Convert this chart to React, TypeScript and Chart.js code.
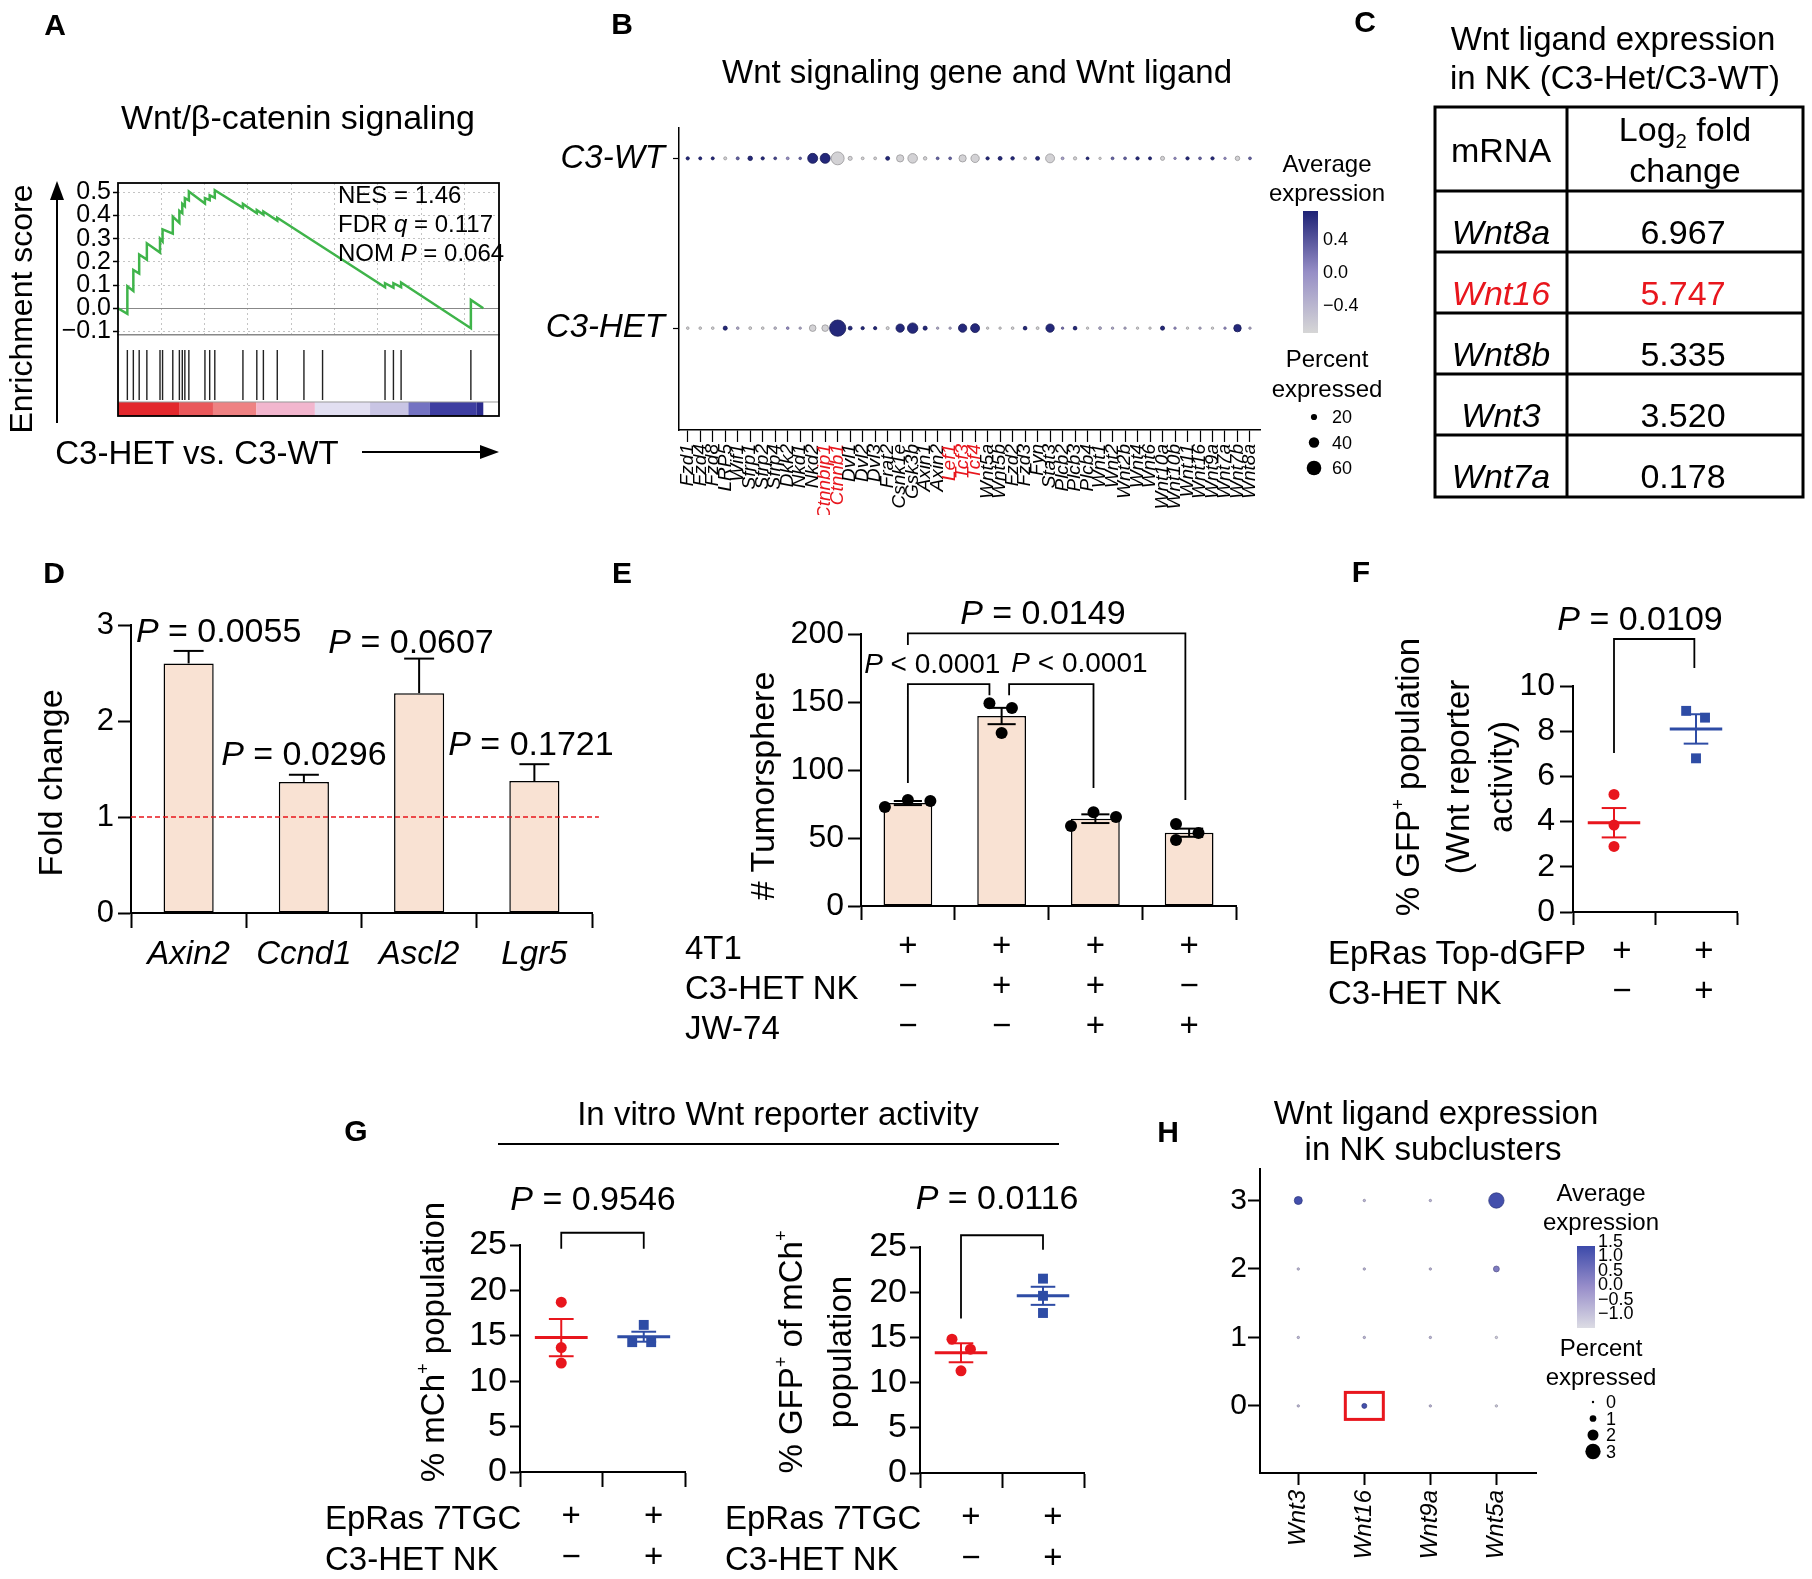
import React, { useEffect, useRef } from 'react';
import { Chart, registerables } from 'chart.js';

Chart.register(...registerables);

const FONT = "'Liberation Sans', Arial, Helvetica, sans-serif";
Chart.defaults.font.family = FONT;
Chart.defaults.color = '#000';

const RED = '#E8161D';
const BLUE = '#2E4CA5';
const PEACH = '#F9E2D3';
const GREEN = '#3FB44A';
const MINUS = '\u2212';

// ---------------- Panel A (GSEA) ----------------
const esRank = [0, 2.56, 2.56, 4.2, 4.2, 5.8, 5.8, 7.9, 7.9, 11.5, 11.5, 12.2, 12.2, 15.0, 15.0, 16.8, 16.8, 17.6, 17.6, 18.3, 18.3, 19.4, 19.4, 23.8, 23.8, 25.1, 25.1, 26.5, 26.5, 34.2, 34.2, 38.0, 38.0, 39.8, 39.8, 43.6, 43.6, 73.1, 73.1, 75.4, 75.4, 77.5, 77.5, 96.6, 96.6, 100];
const esScore = [0, -0.024, 0.095, 0.075, 0.165, 0.15, 0.232, 0.21, 0.28, 0.24, 0.3, 0.288, 0.34, 0.322, 0.395, 0.368, 0.42, 0.41, 0.45, 0.44, 0.475, 0.465, 0.503, 0.452, 0.475, 0.466, 0.487, 0.476, 0.509, 0.433, 0.45, 0.41, 0.423, 0.404, 0.417, 0.378, 0.39, 0.091, 0.108, 0.089, 0.108, 0.091, 0.111, -0.086, 0.036, 0];
const hitRanks = [2.56, 4.2, 5.8, 7.9, 11.5, 12.2, 15.0, 16.8, 17.6, 18.3, 19.4, 23.8, 25.1, 26.5, 34.2, 38.0, 39.8, 43.6, 50.9, 56.0, 73.1, 75.4, 77.5, 96.6];
const esGridRanks = [11.85, 23.7, 35.55, 47.4, 59.25, 71.1, 82.95, 94.8];
const esTicks = [-0.1, 0, 0.1, 0.2, 0.3, 0.4, 0.5];
const rankBarStops = [0, 16.9, 26, 37.9, 53.9, 69, 79.5, 85.4, 98.2, 100];
const rankBarColors = ['#E3282D', '#E9585B', '#EE8283', '#F2B6CE', '#E2DFF1', '#C9C5E4', '#7473C2', '#3E3EA1', '#2A2A8C'];
const gseaStats = [['NES = 1.46', '', ''], ['FDR ', 'q', ' = 0.117'], ['NOM ', 'P', ' = 0.064']];

// ---------------- Panel B (dot plot) ----------------
const genesB = ['Fzd1', 'Fzd4', 'Fzd8', 'LRP5', 'Wif1', 'Sfrp1', 'Sfrp2', 'Sfrp4', 'Dkk2', 'Nkd1', 'Nkd2', 'Ctnnbip1', 'Ctnnb1', 'Dvl1', 'Dvl2', 'Dvl3', 'Frat2', 'Csnk1e', 'Gsk3b', 'Axin1', 'Axin2', 'Lef1', 'Tcf3', 'Tcf4', 'Wnt5a', 'Wnt5b', 'Fzd2', 'Fzd3', 'Fyn', 'Stat3', 'Plcb2', 'Plcb3', 'Plcb4', 'Wnt1', 'Wnt2', 'Wnt2b', 'Wnt4', 'Wnt6', 'Wnt10a', 'Wnt10b', 'Wnt11', 'Wnt16', 'Wnt9a', 'Wnt7a', 'Wnt7b', 'Wnt8a'];
const redGenesB = ['Ctnnbip1', 'Ctnnb1', 'Lef1', 'Tcf3', 'Tcf4'];
const rowsB = ['C3-HET', 'C3-WT'];
const pctWT = [6, 5, 5, 5, 5, 12, 6, 4, 4, 3, 38, 38, 52, 10, 4, 4, 9, 25, 36, 7, 4, 4, 25, 30, 6, 9, 7, 4, 9, 33, 4, 6, 4, 2, 4, 4, 6, 5, 10, 2, 6, 4, 6, 2, 12, 4];
const avgWT = [0.7, 0.7, 0.7, -0.7, 0.3, 0.7, 0.7, 0.5, 0, 0.3, 0.7, 0.7, -0.7, -0.7, -0.7, -0.7, 0.7, -0.7, -0.7, -0.7, 0.3, 0.3, -0.7, -0.7, 0.7, 0.7, 0.7, -0.7, 0.7, -0.7, -0.2, -0.7, 0.7, -0.7, 0.3, 0.3, 0.7, 0.7, -0.7, 0, 0.7, 0.3, 0.7, 0, -0.7, 0.3];
const pctHET = [3, 3, 3, 10, 3, 4, 3, 3, 3, 2, 22, 22, 68, 9, 6, 6, 5, 30, 40, 10, 2, 2, 30, 33, 2, 2, 3, 8, 4, 30, 2, 8, 2, 4, 2, 2, 2, 2, 10, 2, 2, 2, 2, 2, 26, 2];
const avgHET = [-0.7, -0.7, -0.7, 0.7, -0.3, -0.7, -0.7, -0.5, 0, -0.3, -0.7, -0.7, 0.7, 0.7, 0.7, 0.7, -0.7, 0.7, 0.7, 0.7, -0.3, -0.3, 0.7, 0.7, -0.7, -0.7, -0.7, 0.7, -0.7, 0.7, 0.2, 0.7, -0.7, -0.3, -0.3, -0.3, -0.7, -0.7, 0.7, 0, -0.7, -0.3, -0.7, 0, 0.7, -0.3];
const legendPctB = [20, 40, 60];
const legendAvgB = [0.4, 0.0, -0.4];

// ---------------- Panel C (table) ----------------
const tableGenes = ['Wnt8a', 'Wnt16', 'Wnt8b', 'Wnt3', 'Wnt7a'];
const tableLog2FC = ['6.967', '5.747', '5.335', '3.520', '0.178'];
const tableHighlight = 'Wnt16';

// ---------------- Panel D ----------------
const genesD = ['Axin2', 'Ccnd1', 'Ascl2', 'Lgr5'];
const foldD = [2.6, 1.365, 2.29, 1.375];
const errD = [0.13, 0.075, 0.36, 0.175];
const pLabelD = ['P = 0.0055', 'P = 0.0296', 'P = 0.0607', 'P = 0.1721'];
const pXD = [0.26, 1.0, 1.93, 2.97];
const pYD = [2.95, 1.67, 2.84, 1.77];

// ---------------- Panel E ----------------
const condRowsE = ['4T1', 'C3-HET NK', 'JW-74'];
const cond4T1 = ['+', '+', '+', '+'];
const condNKE = [MINUS, '+', '+', MINUS];
const condJW = [MINUS, MINUS, '+', '+'];
const meansE = [75.7, 139.7, 64.2, 53.9];
const semE = [1.5, 6.0, 3.2, 3.0];
const ptsE = [[72.8, 77.9, 77.2], [149, 145.6, 127.2], [58.8, 69, 65.4], [60.3, 48.5, 53.7]];
const jitE = [[-0.245, 0, 0.24], [-0.13, 0.11, 0], [-0.26, -0.02, 0.22], [-0.14, -0.14, 0.1]];
const brX1E = [0, 0, 1.08];
const brX2E = [2.96, 0.87, 1.98];
const brTopE = [200.5, 163.2, 163.2];
const brY1E = [192, 90.4, 155];
const brY2E = [78, 155, 86.8];
const pLabelE = ['P = 0.0149', 'P < 0.0001', 'P < 0.0001'];
const pXE = [1.44, 0.26, 1.83];
const pYE = [216, 179, 179.5];
const pSizeE = [34, 28, 28];

// ---------------- Panel F ----------------
const condRowsF = ['EpRas Top-dGFP', 'C3-HET NK'];
const condRepF = ['+', '+'];
const condNKF = [MINUS, '+'];
const ptsF = [[5.2, 3.85, 2.9], [8.9, 8.6, 6.8]];
const jitF = [[0, 0, 0], [-0.12, 0.11, 0]];
const meanF = [3.95, 8.1];
const semF = [0.65, 0.65];

// ---------------- Panel G ----------------
const condRowsG = ['EpRas 7TGC', 'C3-HET NK'];
const condRepG = ['+', '+'];
const condNKG = [MINUS, '+'];
const ptsG1 = [[18.7, 13.7, 12.0], [16.2, 14.3, 14.3]];
const jitG1 = [[0, 0, 0], [0, -0.14, 0.09]];
const meanG1 = [14.8, 14.9];
const semG1 = [2.05, 0.55];
const ptsG2 = [[14.8, 13.7, 11.3], [21.5, 19.6, 17.7]];
const jitG2 = [[-0.11, 0.115, 0], [0, 0, 0]];
const meanG2 = [13.3, 19.6];
const semG2 = [1.05, 1.0];

// ---------------- Panel H ----------------
const genesH = ['Wnt3', 'Wnt16', 'Wnt9a', 'Wnt5a'];
const clustersH = [0, 1, 2, 3];
const pctH = [[0, 0, 0, 1.3], [0.6, 0, 0, 0], [0, 0, 0, 0], [0, 0, 0.8, 3.0]];
const avgH = [[-0.6, -0.6, -0.6, 1.5], [1.5, -0.5, -0.5, -0.5], [-0.5, -0.5, -0.5, -0.5], [-0.9, -0.9, 0.6, 1.5]];
const highlightH = { gene: 'Wnt16', cluster: 0 };
const legendPctH = [0, 1, 2, 3];
const legendAvgH = [1.5, 1.0, 0.5, 0.0, -0.5, -1.0];

// ---------------- helpers ----------------
function lerpStops(stops: number[][], t: number) {
  const tt = Math.max(0, Math.min(1, t));
  const n = stops.length - 1;
  const k = Math.min(n - 1, Math.floor(tt * n));
  const u = tt * n - k;
  const a = stops[k], b = stops[k + 1];
  return a.map((v, i) => v + (b[i] - v) * u);
}
const rgb = (c: number[], f = 1) => `rgb(${Math.round(c[0] * f)},${Math.round(c[1] * f)},${Math.round(c[2] * f)})`;
const stopsB = [[214, 214, 214], [150, 142, 198], [30, 34, 118]];
const colB = (v: number, f = 1) => rgb(lerpStops(stopsB, (v + 0.74) / 1.48), f);
const rB = (p: number) => 1 + 0.105 * p;
const stopsH = [[220, 220, 228], [152, 142, 202], [60, 74, 170]];
const colH = (v: number, f = 1) => rgb(lerpStops(stopsH, (v + 1.2) / 2.8), f);
const rH = (p: number) => 1.2 + 2.15 * p;
const fmtSigned = (v: number, d: number) => (v < 0 ? MINUS : '') + Math.abs(v).toFixed(d);

function frame(box: number[], area: number[]) {
  const [L, T, W, H] = box;
  const [x0, y0, x1, y1] = area;
  return { left: x0 - L, top: y0 - T, right: L + W - x1, bottom: T + H - y1 };
}

function baseOptions(f: any, scales: any) {
  return {
    responsive: false,
    animation: false,
    devicePixelRatio: 1,
    events: [],
    layout: { padding: { top: f.top, right: f.right, left: 0, bottom: 0 } },
    plugins: { legend: { display: false }, tooltip: { enabled: false } },
    scales,
  };
}

function seg(points: any[], color = '#000', width = 2, extra: any = {}) {
  return {
    type: 'line', data: points, borderColor: color, backgroundColor: color, borderWidth: width,
    pointRadius: 0, xAxisID: 'xs', yAxisID: 'y', clip: false, order: 1, tension: 0, fill: false, ...extra,
  };
}

function bracketSets(x1s: number[], x2s: number[], tops: number[], y1s: number[], y2s: number[]) {
  return x1s.map((x1, i) => seg([{ x: x1, y: y1s[i] }, { x: x1, y: tops[i] }, { x: x2s[i], y: tops[i] }, { x: x2s[i], y: y2s[i] }], '#000', 1.8));
}

function drawPText(ctx: any, text: string, cx: number, cy: number, size: number) {
  const isP = text.startsWith('P');
  const head = isP ? 'P' : '';
  const rest = isP ? text.slice(1) : text;
  ctx.font = `italic ${size}px ${FONT}`;
  const wh = head ? ctx.measureText(head).width : 0;
  ctx.font = `${size}px ${FONT}`;
  const wr = ctx.measureText(rest).width;
  let x = cx - (wh + wr) / 2;
  const y = cy + size * 0.358;
  ctx.textBaseline = 'alphabetic';
  ctx.textAlign = 'left';
  ctx.fillStyle = '#000';
  if (head) {
    ctx.font = `italic ${size}px ${FONT}`;
    ctx.fillText(head, x, y);
    x += wh;
  }
  ctx.font = `${size}px ${FONT}`;
  ctx.fillText(rest, x, y);
}

function makePText(items: any[]) {
  return {
    id: 'pText',
    afterDatasetsDraw(chart: any) {
      const ctx = chart.ctx;
      const xs = chart.scales.xs;
      const ys = chart.scales.y;
      ctx.save();
      items.forEach((it) => drawPText(ctx, it.text, xs.getPixelForValue(it.x), ys.getPixelForValue(it.y), it.size));
      ctx.restore();
    },
  };
}

function makeHighlight(gene: string, cluster: number) {
  return {
    id: 'hlBox',
    afterDatasetsDraw(chart: any) {
      const x = chart.scales.x.getPixelForValue(genesH.indexOf(gene));
      const y = chart.scales.y.getPixelForValue(cluster);
      const ctx = chart.ctx;
      ctx.save();
      ctx.strokeStyle = RED;
      ctx.lineWidth = 3;
      ctx.strokeRect(x - 19, y - 13.5, 38, 27);
      ctx.restore();
    },
  };
}

const hiddenXs = (max: number) => ({ type: 'linear', min: -0.5, max, offset: false, display: false, grid: { offset: false } });

// ---------------- chart configs ----------------
function configA1() {
  const box = [60, 160, 445, 192];
  const f = frame(box, [118, 183, 499, 348]);
  const config = {
    type: 'line',
    data: { datasets: [{ data: esRank.map((r, i) => ({ x: r, y: esScore[i] })), borderColor: GREEN, borderWidth: 2.5, pointRadius: 0, tension: 0, fill: false }] },
    options: baseOptions(f, {
      x: {
        type: 'linear', min: 0, max: 104.3,
        afterBuildTicks: (s: any) => { s.ticks = esGridRanks.map((v) => ({ value: v })); },
        ticks: { display: false },
        grid: { color: '#C4C4C4', lineWidth: 1, drawTicks: false },
        border: { display: true, color: '#888', width: 1.5, dash: [2, 3] },
        afterFit: (s: any) => { s.height = f.bottom; },
      },
      y: {
        type: 'linear', min: -0.115, max: 0.54,
        afterBuildTicks: (s: any) => { s.ticks = esTicks.map((v) => ({ value: v })); },
        ticks: { font: { size: 25 }, padding: 2, autoSkip: false, callback: (v: number) => fmtSigned(v, 1) },
        grid: {
          color: (c: any) => (c.tick && Math.abs(c.tick.value) < 1e-9 ? '#888' : '#C4C4C4'),
          lineWidth: 1, tickLength: 5, tickColor: '#000', tickWidth: 1.5,
        },
        border: { display: false, dash: (c: any) => (c.tick && Math.abs(c.tick.value) < 1e-9 ? [] : [2, 3]) },
        afterFit: (s: any) => { s.width = f.left; },
      },
    }),
  };
  return { box, config };
}

function configA2() {
  const box = [118, 348, 381, 68];
  const f = frame(box, [118, 348, 499, 416]);
  const hitPts = hitRanks.flatMap((h) => [{ x: h, y: 0.235 }, { x: h, y: 0.97 }, { x: h, y: null }]);
  const config = {
    type: 'line',
    data: {
      datasets: [
        { data: hitPts, borderColor: '#222', borderWidth: 1.4, pointRadius: 0, spanGaps: false, tension: 0 },
        { data: [{ x: 0, y: 0.206 }, { x: 104.3, y: 0.206 }], borderColor: '#999', borderWidth: 1, pointRadius: 0 },
        {
          data: rankBarStops.map((v) => ({ x: v, y: 0.103 })), borderWidth: 14, borderCapStyle: 'butt', pointRadius: 0,
          borderColor: rankBarColors[0], segment: { borderColor: (c: any) => rankBarColors[c.p0DataIndex] },
        },
      ],
    },
    options: baseOptions(f, {
      x: { type: 'linear', min: 0, max: 104.3, display: false },
      y: { type: 'linear', min: 0, max: 1, display: false },
    }),
  };
  return { box, config };
}

function configB() {
  const box = [540, 100, 735, 415];
  const f = frame(box, [679, 119, 1263, 430]);
  const mk = (pct: number[], avg: number[], row: number) => ({
    data: genesB.map((_, i) => ({ x: i, y: row })),
    pointRadius: pct.map(rB),
    pointBackgroundColor: avg.map((v) => colB(v)),
    pointBorderColor: avg.map((v) => colB(v, 0.72)),
    pointBorderWidth: 0.8,
  });
  const config = {
    type: 'scatter',
    data: { datasets: [mk(pctWT, avgWT, 1), mk(pctHET, avgHET, 0)] },
    options: baseOptions(f, {
      x: {
        type: 'linear', min: -0.7, max: 45.85,
        afterBuildTicks: (s: any) => { s.ticks = genesB.map((_, i) => ({ value: i })); },
        ticks: {
          autoSkip: false, maxRotation: 90, minRotation: 90, font: { size: 19, style: 'italic' }, padding: 2,
          color: (c: any) => (redGenesB.includes(genesB[c.index]) ? RED : '#000'),
          callback: (v: number) => genesB[v],
        },
        grid: { drawOnChartArea: false, tickLength: 12, tickColor: '#000', tickWidth: 1.2 },
        border: { color: '#000', width: 1.5 },
        afterFit: (s: any) => { s.height = f.bottom; },
      },
      y: {
        type: 'linear', min: -0.6, max: 1.18,
        afterBuildTicks: (s: any) => { s.ticks = [{ value: 0 }, { value: 1 }]; },
        ticks: { font: { size: 33, style: 'italic' }, padding: 8, callback: (v: number) => rowsB[v] },
        grid: { drawOnChartArea: false, tickLength: 6, tickColor: '#000', tickWidth: 1.2 },
        border: { color: '#000', width: 1.5 },
        afterFit: (s: any) => { s.width = f.left; },
      },
    }),
  };
  return { box, config };
}

function configD() {
  const box = [60, 598, 560, 392];
  const f = frame(box, [131, 625, 592, 913]);
  const errSets: any[] = [];
  foldD.forEach((m, i) => {
    const hi = m + errD[i];
    errSets.push(seg([{ x: i, y: m }, { x: i, y: hi }], '#000', 2));
    errSets.push(seg([{ x: i - 0.13, y: hi }, { x: i + 0.13, y: hi }], '#000', 2));
  });
  const config = {
    type: 'bar',
    data: {
      labels: genesD,
      datasets: [
        { type: 'bar', data: foldD, backgroundColor: PEACH, borderColor: '#000', borderWidth: 1.5, borderSkipped: false, grouped: false, barPercentage: 0.435, categoryPercentage: 1, order: 5 },
        ...errSets,
        seg([{ x: -0.5, y: 1 }, { x: 3.56, y: 1 }], RED, 1.5, { borderDash: [5, 3], order: 0 }),
      ],
    },
    options: baseOptions(f, {
      x: {
        type: 'category', offset: true,
        grid: { offset: true, drawOnChartArea: false, tickLength: 15, tickColor: '#000', tickWidth: 2 },
        border: { color: '#000', width: 2 },
        ticks: { font: { size: 33, style: 'italic' }, padding: 7, maxRotation: 0, autoSkip: false },
        afterFit: (s: any) => { s.height = f.bottom; },
      },
      xs: hiddenXs(3.5),
      y: {
        type: 'linear', min: 0, max: 3,
        ticks: { stepSize: 1, font: { size: 31 }, padding: 4 },
        grid: { drawOnChartArea: false, tickLength: 13, tickColor: '#000', tickWidth: 2 },
        border: { color: '#000', width: 2 },
        afterFit: (s: any) => { s.width = f.left; },
      },
    }),
    plugins: [makePText(pLabelD.map((t, i) => ({ text: t, x: pXD[i], y: pYD[i], size: 34 })))],
  };
  return { box, config };
}

function configE() {
  const box = [780, 585, 470, 465];
  const f = frame(box, [861, 634, 1236, 906]);
  const errSets: any[] = [];
  meansE.forEach((m, i) => {
    const lo = m - semE[i], hi = m + semE[i];
    errSets.push(seg([{ x: i, y: lo }, { x: i, y: hi }], '#000', 2));
    errSets.push(seg([{ x: i - 0.15, y: hi }, { x: i + 0.15, y: hi }], '#000', 2));
    errSets.push(seg([{ x: i - 0.15, y: lo }, { x: i + 0.15, y: lo }], '#000', 2));
  });
  const pts = ptsE.flatMap((vals, g) => vals.map((v, j) => ({ x: g + jitE[g][j], y: v })));
  const config = {
    type: 'bar',
    data: {
      labels: cond4T1.map((_, i) => [cond4T1[i], condNKE[i], condJW[i]]),
      datasets: [
        { type: 'bar', data: meansE, backgroundColor: PEACH, borderColor: '#000', borderWidth: 1.5, borderSkipped: false, grouped: false, barPercentage: 0.52, categoryPercentage: 1, order: 5 },
        ...errSets,
        ...bracketSets(brX1E, brX2E, brTopE, brY1E, brY2E),
        { type: 'line', data: pts, showLine: false, pointRadius: 6, pointBackgroundColor: '#000', pointBorderWidth: 0, xAxisID: 'xs', yAxisID: 'y', order: 0, clip: false },
      ],
    },
    options: baseOptions(f, {
      x: {
        type: 'category', offset: true,
        grid: { offset: true, drawOnChartArea: false, tickLength: 14, tickColor: '#000', tickWidth: 2 },
        border: { color: '#000', width: 2 },
        ticks: { font: { size: 33, lineHeight: 40 / 33 }, padding: 7, maxRotation: 0, autoSkip: false },
        afterFit: (s: any) => { s.height = f.bottom; },
      },
      xs: hiddenXs(3.5),
      y: {
        type: 'linear', min: 0, max: 200,
        ticks: { stepSize: 50, font: { size: 32 }, padding: 4 },
        grid: { drawOnChartArea: false, tickLength: 13, tickColor: '#000', tickWidth: 2 },
        border: { color: '#000', width: 2 },
        afterFit: (s: any) => { s.width = f.left; },
      },
    }),
    plugins: [makePText(pLabelE.map((t, i) => ({ text: t, x: pXE[i], y: pYE[i], size: pSizeE[i] })))],
  };
  return { box, config };
}

function groupScatter(o: any) {
  const f = frame(o.box, o.area);
  const ds: any[] = [];
  o.pts.forEach((vals: number[], g: number) => {
    const c = o.colors[g];
    ds.push({
      type: 'line', data: vals.map((v, j) => ({ x: g + o.jitter[g][j], y: v })), showLine: false,
      pointRadius: o.radii[g], pointStyle: o.shapes[g], pointBackgroundColor: c, pointBorderColor: c, pointBorderWidth: 0,
      xAxisID: 'xs', yAxisID: 'y', order: 2, clip: false,
    });
    const m = o.means[g], s = o.sems[g];
    ds.push(seg([{ x: g - 0.32, y: m }, { x: g + 0.32, y: m }], c, 3, { order: 0 }));
    ds.push(seg([{ x: g, y: m - s }, { x: g, y: m + s }], c, 2, { order: 0 }));
    ds.push(seg([{ x: g - 0.15, y: m + s }, { x: g + 0.15, y: m + s }], c, 2, { order: 0 }));
    ds.push(seg([{ x: g - 0.15, y: m - s }, { x: g + 0.15, y: m - s }], c, 2, { order: 0 }));
  });
  ds.push(...bracketSets(o.br[0], o.br[1], o.br[2], o.br[3], o.br[4]));
  const config = {
    type: 'line',
    data: { labels: o.labels, datasets: ds },
    options: baseOptions(f, {
      x: {
        type: 'category', offset: true,
        grid: { offset: true, drawOnChartArea: false, tickLength: o.xTickLen, tickColor: '#000', tickWidth: 2 },
        border: { color: '#000', width: 2 },
        ticks: { font: { size: 33, lineHeight: o.lineH / 33 }, padding: o.xPad, maxRotation: 0, autoSkip: false, labelOffset: o.labelOffset },
        afterFit: (s: any) => { s.height = f.bottom; },
      },
      xs: hiddenXs(1.5),
      y: {
        type: 'linear', min: 0, max: o.yMax,
        ticks: { stepSize: o.yStep, font: { size: o.yFont }, padding: o.yPad },
        grid: { drawOnChartArea: false, tickLength: o.yTickLen, tickColor: '#000', tickWidth: 2 },
        border: { color: '#000', width: 2 },
        afterFit: (s: any) => { s.width = f.left; },
      },
    }),
    plugins: [makePText(o.pItems)],
  };
  return { box: o.box, config };
}

function configF() {
  return groupScatter({
    box: [1500, 595, 300, 425], area: [1573, 686, 1737, 912],
    labels: condRepF.map((_, i) => [condRepF[i], condNKF[i]]),
    pts: ptsF, jitter: jitF, means: meanF, sems: semF,
    colors: [RED, BLUE], shapes: ['circle', 'rect'], radii: [5.5, 7],
    yMax: 10, yStep: 2, yFont: 32, yTickLen: 13, yPad: 5, xTickLen: 13, xPad: 7, lineH: 40, labelOffset: 8,
    br: [[0], [0.98], [12.08], [7.03], [10.8]],
    pItems: [{ text: 'P = 0.0109', x: 0.317, y: 13.0, size: 34 }],
  });
}

function configG1() {
  return groupScatter({
    box: [455, 1175, 255, 404], area: [520, 1245, 685, 1472],
    labels: condRepG.map((_, i) => [condRepG[i], condNKG[i]]),
    pts: ptsG1, jitter: jitG1, means: meanG1, sems: semG1,
    colors: [RED, BLUE], shapes: ['circle', 'rect'], radii: [5.5, 7],
    yMax: 25, yStep: 5, yFont: 34, yTickLen: 10, yPad: 3, xTickLen: 15, xPad: 9, lineH: 41, labelOffset: 10,
    br: [[0], [1], [26.35], [24.6], [24.6]],
    pItems: [{ text: 'P = 0.9546', x: 0.385, y: 30.2, size: 34 }],
  });
}

function configG2() {
  return groupScatter({
    box: [855, 1175, 255, 404], area: [920, 1247, 1084, 1473],
    labels: condRepG.map((_, i) => [condRepG[i], condNKG[i]]),
    pts: ptsG2, jitter: jitG2, means: meanG2, sems: semG2,
    colors: [RED, BLUE], shapes: ['circle', 'rect'], radii: [5.5, 7],
    yMax: 25, yStep: 5, yFont: 34, yTickLen: 10, yPad: 3, xTickLen: 15, xPad: 9, lineH: 41, labelOffset: 10,
    br: [[0], [1], [26.3], [17.1], [24.7]],
    pItems: [{ text: 'P = 0.0116', x: 0.44, y: 30.6, size: 34 }],
  });
}

function configH() {
  const box = [1200, 1150, 350, 425];
  const f = frame(box, [1260, 1165, 1536, 1473]);
  const pts: any[] = [];
  const rad: number[] = [];
  const bg: string[] = [];
  const bd: string[] = [];
  genesH.forEach((_, gi) => {
    clustersH.forEach((cl) => {
      pts.push({ x: gi, y: cl });
      rad.push(rH(pctH[gi][cl]));
      bg.push(colH(avgH[gi][cl]));
      bd.push(colH(avgH[gi][cl], 0.75));
    });
  });
  const config = {
    type: 'scatter',
    data: { datasets: [{ data: pts, pointRadius: rad, pointBackgroundColor: bg, pointBorderColor: bd, pointBorderWidth: 0.8 }] },
    options: baseOptions(f, {
      x: {
        type: 'linear', min: -0.58, max: 3.6,
        afterBuildTicks: (s: any) => { s.ticks = genesH.map((_, i) => ({ value: i })); },
        ticks: { autoSkip: false, maxRotation: 90, minRotation: 90, font: { size: 24, style: 'italic' }, padding: 5, callback: (v: number) => genesH[v] },
        grid: { drawOnChartArea: false, tickLength: 12, tickColor: '#000', tickWidth: 2 },
        border: { color: '#000', width: 2 },
        afterFit: (s: any) => { s.height = f.bottom; },
      },
      y: {
        type: 'linear', min: -0.98, max: 3.46,
        afterBuildTicks: (s: any) => { s.ticks = clustersH.map((c) => ({ value: c })); },
        ticks: { font: { size: 30 }, padding: 1, callback: (v: number) => String(v) },
        grid: { drawOnChartArea: false, tickLength: 12, tickColor: '#000', tickWidth: 2 },
        border: { color: '#000', width: 2 },
        afterFit: (s: any) => { s.width = f.left; },
      },
    }),
    plugins: [makeHighlight(highlightH.gene, highlightH.cluster)],
  };
  return { box, config };
}

// ---------------- components ----------------
function ChartBox({ spec }: { spec: any }) {
  const ref = useRef<HTMLCanvasElement | null>(null);
  const [l, t, w, h] = spec.box;
  useEffect(() => {
    if (!ref.current) return;
    const chart = new Chart(ref.current, spec.config);
    return () => chart.destroy();
  }, []);
  return <canvas ref={ref} width={w} height={h} style={{ position: 'absolute', left: l, top: t, width: w, height: h }} />;
}

function Txt({ x, y, size = 33, align = 'center', rot = 0, bold = false, italic = false, color = '#000', lh = 1, children }: any) {
  const tx = align === 'center' ? '-50%' : align === 'left' ? '0%' : '-100%';
  return (
    <div
      style={{
        position: 'absolute', left: x, top: y, fontSize: size, lineHeight: lh, fontWeight: bold ? 700 : 400,
        fontStyle: italic ? 'italic' : 'normal', color, whiteSpace: 'nowrap', textAlign: 'center',
        transform: `translate(${tx}, -50%) rotate(${rot}deg)`, transformOrigin: 'center',
      }}
    >
      {children}
    </div>
  );
}

const Sup = ({ children }: any) => (
  <span style={{ fontSize: '0.55em', position: 'relative', top: '-0.8em' }}>{children}</span>
);

const specs = [configA1(), configA2(), configB(), configD(), configE(), configF(), configG1(), configG2(), configH()];

const tableX = [1435, 1567, 1803];
const tableY = [107, 191, 252, 313, 374, 435, 497];

export default function App() {
  const gradB = `linear-gradient(to bottom, ${colB(0.74)}, ${colB(0)}, ${colB(-0.74)})`;
  const gradH = `linear-gradient(to bottom, ${colH(1.6)}, ${colH(0.2)}, ${colH(-1.2)})`;
  return (
    <div style={{ position: 'absolute', left: 0, top: 0, width: 1812, height: 1579, background: '#fff', fontFamily: FONT, color: '#000', overflow: 'hidden' }}>
      {specs.map((s, i) => <ChartBox key={i} spec={s} />)}

      <svg width={1812} height={1579} style={{ position: 'absolute', left: 0, top: 0, pointerEvents: 'none' }}>
        <rect x={118} y={183} width={381} height={233} fill="none" stroke="#000" strokeWidth={1.8} />
        <line x1={57} y1={423} x2={57} y2={196} stroke="#000" strokeWidth={2} />
        <polygon points="57,181 50,200 64,200" fill="#000" />
        <line x1={362} y1={452} x2={484} y2={452} stroke="#000" strokeWidth={2} />
        <polygon points="499,452 480,445 480,459" fill="#000" />
        {legendAvgB.map((v, i) => (
          <g key={i}>
            <line x1={1303} x2={1306} y1={272 - v * 82.5} y2={272 - v * 82.5} stroke="#fff" strokeWidth={1.5} />
            <line x1={1315} x2={1318} y1={272 - v * 82.5} y2={272 - v * 82.5} stroke="#fff" strokeWidth={1.5} />
          </g>
        ))}
        {legendPctB.map((p, i) => <circle key={i} cx={1314} cy={417 + i * 25.5} r={rB(p)} fill="#000" />)}
        <rect x={tableX[0]} y={tableY[0]} width={tableX[2] - tableX[0]} height={tableY[6] - tableY[0]} fill="none" stroke="#000" strokeWidth={3} />
        <line x1={tableX[1]} x2={tableX[1]} y1={tableY[0]} y2={tableY[6]} stroke="#000" strokeWidth={3} />
        {tableY.slice(1, 6).map((y, i) => <line key={i} x1={tableX[0]} x2={tableX[2]} y1={y} y2={y} stroke="#000" strokeWidth={3} />)}
        <line x1={498} y1={1144} x2={1059} y2={1144} stroke="#000" strokeWidth={2} />
        {legendPctH.map((p, i) => <circle key={i} cx={1593} cy={1402 + i * 16.5} r={rH(p)} fill="#000" />)}
      </svg>

      <Txt x={55} y={25} size={30} bold>A</Txt>
      <Txt x={622} y={24} size={30} bold>B</Txt>
      <Txt x={1365} y={22} size={30} bold>C</Txt>
      <Txt x={54} y={573} size={30} bold>D</Txt>
      <Txt x={622} y={573} size={30} bold>E</Txt>
      <Txt x={1361} y={572} size={30} bold>F</Txt>
      <Txt x={356} y={1131} size={30} bold>G</Txt>
      <Txt x={1168} y={1132} size={30} bold>H</Txt>

      <Txt x={298} y={117} size={34}>Wnt/β-catenin signaling</Txt>
      {gseaStats.map((s, i) => (
        <Txt key={i} x={338} y={195 + i * 29} size={24} align="left">
          {s[0]}<i>{s[1]}</i>{s[2]}
        </Txt>
      ))}
      <Txt x={21} y={309} size={32} rot={-90}>Enrichment score</Txt>
      <Txt x={197} y={452} size={33}>C3-HET vs. C3-WT</Txt>

      <Txt x={977} y={71} size={33}>Wnt signaling gene and Wnt ligand</Txt>
      <Txt x={1327} y={164} size={24}>Average</Txt>
      <Txt x={1327} y={193} size={24}>expression</Txt>
      <div style={{ position: 'absolute', left: 1303, top: 211, width: 15, height: 122, background: gradB }} />
      {legendAvgB.map((v, i) => (
        <Txt key={i} x={1323} y={272 - v * 82.5} size={18} align="left">{fmtSigned(v, 1)}</Txt>
      ))}
      <Txt x={1327} y={359} size={24}>Percent</Txt>
      <Txt x={1327} y={389} size={24}>expressed</Txt>
      {legendPctB.map((p, i) => (
        <Txt key={i} x={1332} y={417 + i * 25.5} size={18} align="left">{p}</Txt>
      ))}

      <Txt x={1613} y={38} size={33}>Wnt ligand expression</Txt>
      <Txt x={1615} y={77} size={33}>in NK (C3-Het/C3-WT)</Txt>
      <Txt x={1501} y={150} size={34}>mRNA</Txt>
      <Txt x={1685} y={129} size={34}>Log<span style={{ fontSize: '0.6em', position: 'relative', top: '0.35em' }}>2</span> fold</Txt>
      <Txt x={1685} y={170} size={34}>change</Txt>
      {tableGenes.map((g, i) => {
        const cy = (tableY[i + 1] + tableY[i + 2]) / 2 + 10;
        const col = g === tableHighlight ? RED : '#000';
        return (
          <React.Fragment key={g}>
            <Txt x={(tableX[0] + tableX[1]) / 2} y={cy} size={34} italic color={col}>{g}</Txt>
            <Txt x={(tableX[1] + tableX[2]) / 2 - 2} y={cy} size={34} color={col}>{tableLog2FC[i]}</Txt>
          </React.Fragment>
        );
      })}

      <Txt x={50} y={783} size={34} rot={-90}>Fold change</Txt>

      <Txt x={762} y={786} size={34} rot={-90}># Tumorsphere</Txt>
      {condRowsE.map((r, i) => <Txt key={r} x={685} y={947 + i * 40} size={33} align="left">{r}</Txt>)}

      <Txt x={1454} y={777} size={33} rot={-90} lh="43.5px">
        % GFP<Sup>+</Sup> population<br />(Wnt reporter<br />activity)
      </Txt>
      {condRowsF.map((r, i) => <Txt key={r} x={1328} y={952 + i * 40} size={33} align="left">{r}</Txt>)}

      <Txt x={778} y={1113} size={33}>In vitro Wnt reporter activity</Txt>
      <Txt x={432} y={1342} size={33} rot={-90}>% mCh<Sup>+</Sup> population</Txt>
      <Txt x={815} y={1352} size={33} rot={-90} lh="44px">
        % GFP<Sup>+</Sup> of mCh<Sup>+</Sup><br />population
      </Txt>
      {condRowsG.map((r, i) => <Txt key={'l' + r} x={325} y={1517 + i * 41} size={33} align="left">{r}</Txt>)}
      {condRowsG.map((r, i) => <Txt key={'r' + r} x={725} y={1517 + i * 41} size={33} align="left">{r}</Txt>)}

      <Txt x={1436} y={1112} size={33}>Wnt ligand expression</Txt>
      <Txt x={1433} y={1148} size={33}>in NK subclusters</Txt>
      <Txt x={1601} y={1193} size={24}>Average</Txt>
      <Txt x={1601} y={1222} size={24}>expression</Txt>
      <div style={{ position: 'absolute', left: 1577, top: 1246, width: 18, height: 82, background: gradH }} />
      {legendAvgH.map((v, i) => (
        <Txt key={i} x={1598} y={1284 - v * 29} size={18} align="left">{fmtSigned(v, 1)}</Txt>
      ))}
      <Txt x={1601} y={1348} size={24}>Percent</Txt>
      <Txt x={1601} y={1377} size={24}>expressed</Txt>
      {legendPctH.map((p, i) => (
        <Txt key={i} x={1606} y={1402 + i * 16.5} size={18} align="left">{p}</Txt>
      ))}
    </div>
  );
}
